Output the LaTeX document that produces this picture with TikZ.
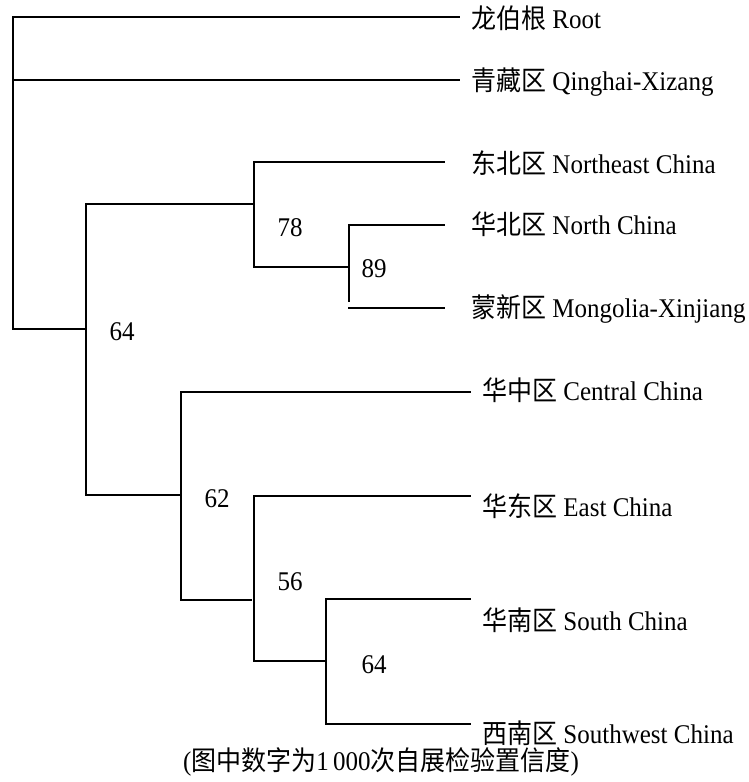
\documentclass[tikz,border=0pt]{standalone}
\usepackage{graphicx}
\usepackage{fontspec}
\setmainfont{Liberation Serif}
\newfontfamily\cjk{Noto Sans CJK SC}
\newcommand{\tallt}[1]{\scalebox{1}[1.08]{#1}}
\newcommand{\leaflabel}[2]{\tallt{{\cjk #1} #2}}
\begin{document}
\begin{tikzpicture}[x=1pt,y=-1pt,
  branch/.style={line width=2pt,line cap=rect},
  leaf/.style={anchor=base west,inner sep=0pt,font=\fontsize{25}{30}\selectfont},
  boot/.style={anchor=base,inner sep=0pt,font=\fontsize{25}{30}\selectfont},
  note/.style={anchor=base,inner sep=0pt,font=\fontsize{25}{30}\selectfont}]
\useasboundingbox (0,0) rectangle (748,782);
% coordinates of internal nodes
\coordinate (r1) at (13,17);
\coordinate (r2) at (13,329);
\coordinate (a1) at (86,204);
\coordinate (a2) at (86,495);
\coordinate (b1) at (254,162);
\coordinate (b2) at (254,267);
\coordinate (c1) at (349,225);
\coordinate (c2) at (349,301);
\coordinate (c3) at (349,308);
\coordinate (d1) at (181,392);
\coordinate (d2) at (181,600);
\coordinate (e1) at (254,496);
\coordinate (e2) at (254,661);
\coordinate (f1) at (326,599);
\coordinate (f2) at (326,724);
% leaf line ends
\coordinate (eRoot) at (459,17);
\coordinate (eQX) at (459,80);
\coordinate (eNE) at (444,162);
\coordinate (eN) at (444,225);
\coordinate (eMX) at (444,308);
\coordinate (eC) at (470,392);
\coordinate (eE) at (470,496);
\coordinate (eS) at (470,599);
\coordinate (eSW) at (470,724);
% branches
\draw[branch] (eRoot) -- (r1) -- (r2) -- (a1 |- r2);
\draw[branch] (r1 |- eQX) -- (eQX);
\draw[branch] (a1 -| b1) -- (a1) -- (a2) -- (d1 |- a2);
\draw[branch] (eNE) -- (b1) -- (b2) -- (c1 |- b2);
\draw[branch] (eN) -- (c1) -- (c2);
\draw[branch] (c3) -- (eMX);
\draw[branch] (eC) -- (d1) -- (d2) -- (251,600);
\draw[branch] (eE) -- (e1) -- (e2) -- (f1 |- e2);
\draw[branch] (eS) -- (f1) -- (f2) -- (eSW);
% leaf labels
\node[leaf] (lRoot) at (471,28) {\leaflabel{龙伯根}{Root}};
\node[leaf] (lQX) at (471,90.5) {\leaflabel{青藏区}{Qinghai-Xizang}};
\node[leaf] (lNE) at (471,173) {\leaflabel{东北区}{Northeast China}};
\node[leaf] (lN) at (471,234) {\leaflabel{华北区}{North China}};
\node[leaf] (lMX) at (471,317) {\leaflabel{蒙新区}{Mongolia-Xinjiang}};
\node[leaf] (lC) at (482,400.5) {\leaflabel{华中区}{Central China}};
\node[leaf] (lE) at (482,516) {\leaflabel{华东区}{East China}};
\node[leaf] (lS) at (482,630) {\leaflabel{华南区}{South China}};
\node[leaf] (lSW) at (482,743) {\leaflabel{西南区}{Southwest China}};
% bootstrap values
\node[boot] (n78) at (290,236) {\tallt{78}};
\node[boot] (n89) at (374,277) {\tallt{89}};
\node[boot] (n64a) at (122,340.5) {\tallt{64}};
\node[boot] (n62) at (217,507) {\tallt{62}};
\node[boot] (n56) at (290,590) {\tallt{56}};
\node[boot] (n64b) at (374,673) {\tallt{64}};
% caption
\node[note] (cap) at (381,770) {\tallt{({\cjk 图中数字为}1\,000{\cjk 次自展检验置信度})}};
\end{tikzpicture}
\end{document}
